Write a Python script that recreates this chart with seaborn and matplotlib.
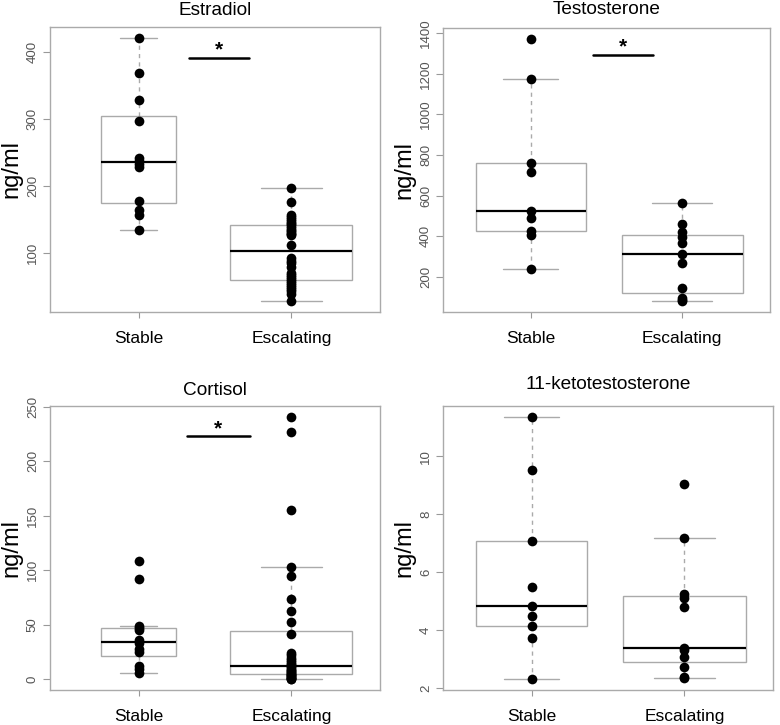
import matplotlib
matplotlib.use('Agg')
import matplotlib.pyplot as plt
import numpy as np
import pandas as pd
import seaborn as sns

grupos = ['Stable', 'Escalating']

# valores (ng/ml)
estradiol_stable = [422, 369, 328, 297, 242, 237, 233, 228, 178, 164, 156, 134]
estradiol_escalating = [197, 176, 157, 153, 150, 147, 145, 143, 140, 137, 134, 132,
                        130, 128, 126, 112, 92, 88, 84, 78, 70, 66, 63, 60, 57, 54,
                        51, 48, 45, 42, 38, 27]

testo_stable = [1375, 1176, 760, 714, 525, 488, 427, 404, 236]
testo_escalating = [565, 458, 418, 395, 365, 312, 269, 142, 93, 85, 77]

cortisol_stable = [109, 92.5, 49, 47, 45, 36, 33, 28, 25, 12, 10, 6]
cortisol_escalating = [241, 227, 155, 103, 95, 74, 63, 53, 42, 24, 22, 20, 18, 16,
                       14, 13, 12, 11, 10, 9, 8, 7, 6, 5, 4.5, 4, 3, 2, 1.5, 1, 0.5, 0]

kt_stable = [11.38, 9.52, 7.08, 5.49, 4.83, 4.49, 4.13, 3.74, 2.29]
kt_escalating = [9.06, 7.19, 5.26, 5.10, 4.81, 3.37, 3.30, 3.05, 2.73, 2.38, 2.34]

yticks_estradiol = [100, 200, 300, 400]
yticks_testo = [200, 400, 600, 800, 1000, 1200, 1400]
yticks_cortisol = [0, 50, 100, 150, 200, 250]
yticks_kt = [2, 4, 6, 8, 10]

sns.set_theme(style='white')
plt.rcParams['font.family'] = ['Liberation Sans', 'DejaVu Sans']

cinza = '#aaaaaa'

paineis = [
    dict(titulo='Estradiol', stable=estradiol_stable, esc=estradiol_escalating,
         yticks=yticks_estradiol, rect=(50, 27, 380, 312), pad=8.5,
         sig=(0.33, 0.72, 392)),
    dict(titulo='Testosterone', stable=testo_stable, esc=testo_escalating,
         yticks=yticks_testo, rect=(443, 28, 770, 312), pad=10,
         sig=(0.41, 0.81, 1296)),
    dict(titulo='Cortisol', stable=cortisol_stable, esc=cortisol_escalating,
         yticks=yticks_cortisol, rect=(50, 406, 380, 690), pad=8,
         sig=(0.315, 0.73, 222.7)),
    dict(titulo='11-ketotestosterone', stable=kt_stable, esc=kt_escalating,
         yticks=yticks_kt, rect=(443, 406, 773, 690), pad=12,
         sig=None),
]

W, H = 780, 725
fig = plt.figure(figsize=(W / 100, H / 100), dpi=100)

for p in paineis:
    x0, y0, x1, y1 = p['rect']
    ax = fig.add_axes([x0 / W, 1 - y1 / H, (x1 - x0) / W, (y1 - y0) / H])

    df = pd.DataFrame({
        'grupo': ['Stable'] * len(p['stable']) + ['Escalating'] * len(p['esc']),
        'valor': p['stable'] + p['esc'],
    })
    n_max = max(len(p['stable']), len(p['esc']))

    # caixas com largura proporcional a sqrt(n), como varwidth do R
    for g in grupos:
        sub = df[df['grupo'] == g]
        sns.boxplot(
            data=sub, x='grupo', y='valor', order=grupos,
            width=0.8 * np.sqrt(len(sub) / n_max),
            color='white', linecolor=cinza, linewidth=1,
            showfliers=False,
            medianprops={'color': 'black', 'linewidth': 1.6},
            whiskerprops={'color': cinza, 'linestyle': (0, (3, 3)), 'linewidth': 1},
            capprops={'color': cinza, 'linewidth': 1},
            ax=ax,
        )

    sns.stripplot(data=df, x='grupo', y='valor', order=grupos, jitter=False,
                  color='black', size=7, linewidth=0, zorder=5, ax=ax)

    vmin, vmax = df['valor'].min(), df['valor'].max()
    margem = 0.04 * (vmax - vmin)
    ax.set_ylim(vmin - margem, vmax + margem)
    ax.set_xlim(-0.58, 1.58)
    ax.set_yticks(p['yticks'])
    ax.set_yticklabels([str(t) for t in p['yticks']], rotation=90, va='center')

    if p['sig'] is not None:
        sx0, sx1, sy = p['sig']
        ax.plot([sx0, sx1], [sy, sy], color='black', linewidth=1.8, zorder=6)
        ax.annotate('*', xy=((sx0 + sx1) / 2, sy), xytext=(0, 1.5),
                    textcoords='offset points', ha='center', va='baseline',
                    fontsize=15, fontweight='bold', color='black')

    ax.set_title(p['titulo'], fontsize=13.7, pad=p['pad'], color='black')
    ax.set_xlabel('')
    ax.set_ylabel('ng/ml', fontsize=17, color='black', va='center')
    ax.yaxis.set_label_coords(-0.118, 0.5)

    for spine in ax.spines.values():
        spine.set_visible(True)
        spine.set_color(cinza)
        spine.set_linewidth(1)

    ax.tick_params(axis='y', left=True, length=5, width=0.8, color='#999999',
                   labelsize=9.5, labelcolor='#555555', pad=3)
    ax.tick_params(axis='x', bottom=True, length=4, width=0.8, color='#999999',
                   labelsize=12.5, labelcolor='black', pad=10)

fig.savefig('out.png', dpi=100)
